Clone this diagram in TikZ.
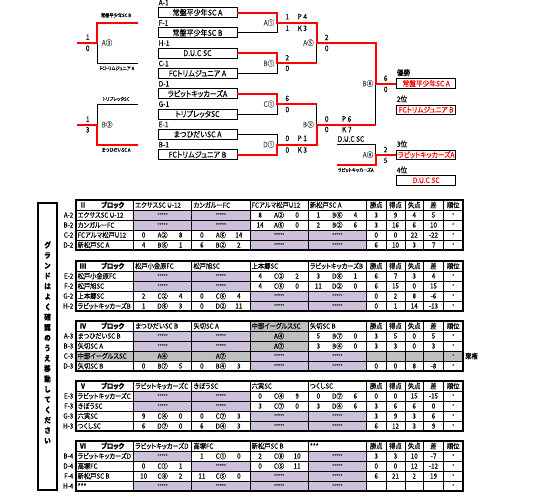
\documentclass[tikz,border=0pt]{standalone}
\usepackage{fontspec}
\setmainfont{Noto Sans CJK JP}[RawFeature=+palt, FakeStretch=0.88, FakeBold=0.12]
\usepackage{tikz}
\definecolor{lila}{RGB}{204,192,218}
\definecolor{gris}{RGB}{191,191,191}
\definecolor{rojo}{RGB}{255,0,0}

\tikzset{
  gana/.style={rojo, line width=2pt},
  pierde/.style={black, line width=0.8pt},
  caja/.style={draw, line width=0.9pt, minimum width=79pt, minimum height=10pt, inner sep=0pt, font=\fontsize{8}{8}\selectfont},
  puesto/.style={draw, line width=0.9pt, minimum width=59pt, minimum height=9.5pt, inner sep=0pt, text=rojo, font=\fontsize{7.6}{8}\selectfont},
  txt/.style={inner sep=0pt, font=\fontsize{7.5}{8}\selectfont},
  ronda/.style={txt, text=black!70, anchor=east},
  mini/.style={inner sep=0pt, font=\fontsize{4.8}{5}\selectfont},
  celda/.style={inner sep=0pt, font=\fontsize{7.1}{7.5}\selectfont},
  ast/.style={inner sep=0pt, text=black!75, font=\fontsize{5}{5}\selectfont},
  fina/.style={line width=0.6pt},
  gruesa/.style={line width=1.5pt},
}

\begin{document}
\begin{tikzpicture}[x=1pt, y=-1pt]
  \useasboundingbox (0,0) rectangle (537,499);

  % Equipos del cuadro
  \foreach \nom/\cod/\equipo [count=\i from 0] in {A1/A-1/常盤平少年SC A, F1/F-1/常盤平少年SC B,
      H1/H-1/D.U.C SC, C1/C-1/FCトリムジュニア A, D1/D-1/ラビットキッカーズA,
      G1/G-1/トリプレッタSC, E1/E-1/まつひだいSC A, B1/B-1/FCトリムジュニア B}{
    \node[caja] (\nom) at (197.5,{12.5+20.3*\i}) {\equipo};
    \node[txt, anchor=west] (l\nom) at (158.5,{2.6+20.3*\i}) {\cod};
  }

  % Puestos finales
  \node[puesto] (p1) at (426.2,83.5) {常盤平少年SC A};
  \node[puesto] (p2) at (426.2,109.7) {FCトリムジュニア B};
  \node[puesto] (p3) at (426.2,154.7) {ラビットキッカーズA};
  \node[puesto] (p4) at (426.2,180.3) {D.U.C SC};
  \node[txt, anchor=west] (t1) at (396.7,72.7) {優勝};
  \node[txt, anchor=west] (t2) at (396.7,99) {2位};
  \node[txt, anchor=west] (t3) at (396.7,144) {3位};
  \node[txt, anchor=west] (t4) at (396.7,170) {4位};

  % Cruces
  \coordinate (j1) at (277,22.7);
  \coordinate (j2) at (277,63.3);
  \coordinate (j3) at (277,104);
  \coordinate (j4) at (277,144.5);
  \coordinate (k1) at (316.7,42.7);
  \coordinate (k2) at (316.7,124.5);
  \coordinate (m1) at (375.7,83.5);
  \coordinate (m2) at (375.7,154.7);
  \coordinate (s1) at (336.7,144);
  \coordinate (s2) at (336.7,164.7);

  \draw[pierde] (F1.east) -| (j1);
  \draw[pierde] (C1.east) -| (j2);
  \draw[pierde] (G1.east) -| (j3);
  \draw[pierde] (E1.east) -| (j4);
  \draw[pierde] (j2 -| k1) -- (k1);
  \draw[pierde] (j3 -| k2) -- (k2);
  \draw[pierde] (k2 -| m1) -- (m1);
  \draw[pierde] (s1) -| (m2);
  \draw[gana] (A1.east) -| (j1) -| (k1) -| (m1) -- (p1.west);
  \draw[gana] (H1.east) -| (j2) -- (j2 -| k1);
  \draw[gana] (D1.east) -| (j3) -- (j3 -| k2);
  \draw[gana] (B1.east) -| (j4) -| (k2) -- (k2 -| m1);
  \draw[gana] (s2) -| (m2) -- (p3.west);

  % Previas
  \coordinate (pa) at (77.3,42.7);
  \coordinate (qa) at (97.3,42.7);
  \coordinate (ua) at (138,22.7);
  \coordinate (va) at (138,63.3);
  \coordinate (pb) at (77.3,125);
  \coordinate (qb) at (97.3,125);
  \coordinate (ub) at (138,104.3);
  \coordinate (vb) at (138,145);
  \draw[pierde] (qa) |- (va);
  \draw[gana] (pa) -- (qa) |- (ua);
  \draw[pierde] (qb) |- (ub);
  \draw[gana] (pb) -- (qb) |- (vb);

  \node[mini] (na1) at (116,15.3) {常盤平少年SC B};
  \node[mini] (na2) at (117,68.3) {FCトリムジュニア A};
  \node[mini] (nb1) at (116,99) {トリプレッタSC};
  \node[mini] (nb2) at (116,150) {まつひだいSC A};
  \node[mini] (n3) at (355.7,170) {ラビットキッカーズA};
  \node[txt, anchor=west] (duc) at (337.5,139) {D.U.C SC};
  \node[txt, text=black!70, anchor=west] (ra3) at (101.5,42.7) {A③};
  \node[txt, text=black!70, anchor=west] (rb3) at (101.5,124.5) {B③};

  % Rondas
  \foreach \x/\y/\r [count=\i] in {274.5/22.7/A①, 274.5/63.3/B①, 274.5/104/C①, 274.5/144.5/D①,
      314/42.7/A⑤, 314/124.5/B⑤, 373.5/83.5/B⑧, 373.5/154.7/A⑧}
    \node[ronda] (r\i) at (\x,\y) {\r};

  % Marcadores
  \foreach \x/\y/\s [count=\i] in {87.7/37.3/1, 87.7/48.3/0, 87.7/119.3/1, 87.7/129.8/3,
      287.3/16.7/1, 302.3/16.7/P 4, 287.3/28.3/1, 302.3/28.3/K 3,
      287.3/57.7/2, 287.3/68.3/0, 287.3/98.5/6, 287.3/109.5/0,
      287.3/138.3/0, 302.3/138.3/P 1, 287.3/150/0, 302.3/150/K 3,
      326.7/37.3/2, 326.7/48.3/0, 326.7/119/0, 346.7/119/P 6, 326.7/129.5/0, 346.7/129.5/K 7,
      385.7/78.3/6, 385.7/89.3/0, 385.7/149.5/2, 385.7/160.5/5}
    \node[txt] (s\i) at (\x,\y) {\s};

  % Aviso vertical
  \node[draw, gruesa, minimum width=19pt, minimum height=287pt, inner sep=0pt] (aviso) at (47.5,346.5) {};
  \node[align=center, inner sep=0pt, font=\bfseries\fontsize{7.5}{10.3}\selectfont] (textoaviso) at (47.5,342.5)
    {グ\\ラ\\ン\\ド\\は\\よ\\く\\確\\認\\の\\う\\え\\移\\動\\し\\て\\く\\だ\\さ\\い};

  % Tablas: fondos
  \foreach \tb in {200,261,321,381}
    \foreach \col/\fil in {1/1,2/1,1/2,2/2,3/3,4/3,3/4,4/4}{
      \fill[lila] ({133.5+58.25*(\col-1)},{\tb+10*\fil}) rectangle ++(58.25,10);
      \node[ast] (x\tb-\col-\fil) at ({133.5+58.25*(\col-0.5)},{\tb+10*\fil+5}) {*****};
    }
  \foreach \col/\fil in {1/1,4/1,2/2,4/2,3/3,4/3,1/4,2/4,3/4,4/4}{
    \fill[lila] ({133.5+58.25*(\col-1)},{441+10*\fil}) rectangle ++(58.25,10);
    \node[ast] (x441-\col-\fil) at ({133.5+58.25*(\col-0.5)},{441+10*\fil+5}) {*****};
  }
  \fill[gris] (250,321) rectangle (308.25,351);
  \fill[gris] (76,351) rectangle (250,361);
  \fill[gris] (366.5,351) rectangle (463,361);

  % Tablas: lineas
  \foreach \tb in {200,261,321,381,441}{
    \foreach \k in {1,...,4}
      \draw[fina] (76,\tb+10*\k) -- (463,\tb+10*\k);
    \foreach \x in {133.5,191.75,250,308.25,366.5,386,405,423.5,443.5}
      \draw[fina] (\x,\tb) -- (\x,\tb+50);
    \draw[gruesa] (76,\tb) rectangle (463,\tb+50);
  }

  % Tablas: cabeceras
  \foreach \tb/\bl in {200/Ⅱ,261/Ⅲ,321/Ⅳ,381/Ⅴ,441/Ⅵ}{
    \node[celda, font=\bfseries\fontsize{7.1}{7.5}\selectfont] (bn\tb) at (83,\tb+5) {\bl};
    \node[celda, font=\bfseries\fontsize{7.1}{7.5}\selectfont, anchor=west] (bb\tb) at (101,\tb+5) {ブロック};
    \foreach \h/\x [count=\i] in {勝点/376.25, 得点/395.5, 失点/414.25, 差/433.5, 順位/453.25}
      \node[celda] (h\tb-\i) at (\x,\tb+5) {\h};
  }
  \foreach \tb/\ea/\eb/\ec/\ed in {200/エクサスSC U-12/カンガルーFC/FCアルマ松戸U12/新松戸SC A,
      261/松戸小金原FC/松戸旭SC/上本郷SC/ラビットキッカーズB,
      321/まつひだいSC B/矢切SC A/中部イーグルスSC/矢切SC B,
      381/ラビットキッカーズC/きぼうSC/六実SC/つくしSC,
      441/ラビットキッカーズD/高塚FC/新松戸SC B/***}
    \foreach \e [count=\j from 0] in {\ea,\eb,\ec,\ed}
      \node[celda, anchor=west] (c\tb-\j) at ({135+58.25*\j},\tb+5) {\e};

  % Tablas: equipos
  \foreach \tb/\fil/\cod/\nom in {200/1/A-2/エクサスSC U-12, 200/2/B-2/カンガルーFC,
      200/3/C-2/FCアルマ松戸U12, 200/4/D-2/新松戸SC A,
      261/1/E-2/松戸小金原FC, 261/2/F-2/松戸旭SC, 261/3/G-2/上本郷SC, 261/4/H-2/ラビットキッカーズB,
      321/1/A-3/まつひだいSC B, 321/2/B-3/矢切SC A, 321/3/C-3/中部イーグルスSC, 321/4/D-3/矢切SC B,
      381/1/E-3/ラビットキッカーズC, 381/2/F-3/きぼうSC, 381/3/G-3/六実SC, 381/4/H-3/つくしSC,
      441/1/B-4/ラビットキッカーズD, 441/2/D-4/高塚FC, 441/3/F-4/新松戸SC B, 441/4/H-4/***}{
    \node[celda, anchor=east] (e\tb-\fil) at (73.5,\tb+10*\fil+5) {\cod};
    \node[celda, anchor=west] (q\tb-\fil) at (77.5,\tb+10*\fil+5) {\nom};
    \node[ast] (o\tb-\fil) at (453.25,\tb+10*\fil+5) {*};
  }

  % Tablas: resultados
  \foreach \tb/\col/\fil/\izq/\cod/\der in {200/3/1/8/A②/0, 200/4/1/1/B⑥/4, 200/3/2/14/A⑥/0, 200/4/2/2/B②/6,
      200/1/3/0/A②/8, 200/2/3/0/A⑥/14, 200/1/4/4/B⑥/1, 200/2/4/6/B②/2,
      261/3/1/4/C②/2, 261/4/1/3/D⑥/1, 261/3/2/4/C⑥/0, 261/4/2/11/D②/0,
      261/1/3/2/C②/4, 261/2/3/0/C⑥/4, 261/1/4/1/D⑥/3, 261/2/4/0/D②/11,
      321/4/1/5/B⑦/0, 321/4/2/3/B④/0, 321/1/4/0/B⑦/5, 321/2/4/0/B④/3,
      381/3/1/0/C④/9, 381/4/1/0/D⑦/6, 381/3/2/3/C⑦/0, 381/4/2/3/D④/6,
      381/1/3/9/C④/0, 381/2/3/0/C⑦/3, 381/1/4/6/D⑦/0, 381/2/4/6/D④/3,
      441/2/1/1/C①/0, 441/3/1/2/C⑧/10, 441/1/2/0/C①/1, 441/3/2/0/C⑤/11,
      441/1/3/10/C⑧/2, 441/2/3/11/C⑤/0}{
    \node[celda] (a\tb-\col-\fil) at ({133.5+58.25*(\col-0.5)-19},{\tb+10*\fil+5}) {\izq};
    \node[celda] (m\tb-\col-\fil) at ({133.5+58.25*(\col-0.5)},{\tb+10*\fil+5}) {\cod};
    \node[celda] (b\tb-\col-\fil) at ({133.5+58.25*(\col-0.5)+18},{\tb+10*\fil+5}) {\der};
  }
  \foreach \col/\fil/\cod in {3/1/A④, 3/2/A⑦, 1/3/A④, 2/3/A⑦}
    \node[celda] (m321-\col-\fil) at ({133.5+58.25*(\col-0.5)},{321+10*\fil+5}) {\cod};
  \node[celda, anchor=west] (kiken) at (465,356) {棄権};

  % Tablas: puntos
  \foreach \tb/\fil/\pt/\gf/\gc/\df in {200/1/3/9/4/5, 200/2/3/16/6/10, 200/3/0/0/22/-22, 200/4/6/10/3/7,
      261/1/6/7/3/4, 261/2/6/15/0/15, 261/3/0/2/8/-6, 261/4/0/1/14/-13,
      321/1/3/5/0/5, 321/2/3/3/0/3, 321/4/0/0/8/-8,
      381/1/0/0/15/-15, 381/2/3/6/6/0, 381/3/3/9/3/6, 381/4/6/12/3/9,
      441/1/3/3/10/-7, 441/2/0/0/12/-12, 441/3/6/21/2/19}{
    \node[celda] (v\tb-\fil) at (376.25,\tb+10*\fil+5) {\pt};
    \node[celda] (g\tb-\fil) at (395.5,\tb+10*\fil+5) {\gf};
    \node[celda] (f\tb-\fil) at (414.25,\tb+10*\fil+5) {\gc};
    \node[celda] (d\tb-\fil) at (433.5,\tb+10*\fil+5) {\df};
  }
\end{tikzpicture}
\end{document}
